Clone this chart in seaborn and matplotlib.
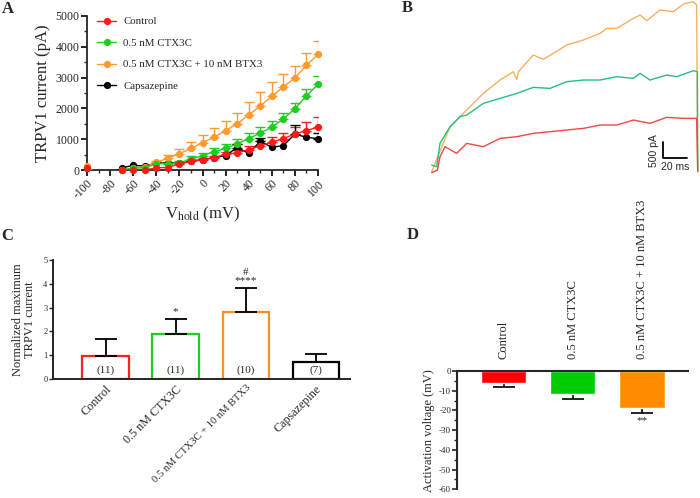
import numpy as np
import pandas as pd
import matplotlib
matplotlib.use("Agg")
import matplotlib.pyplot as plt
from matplotlib.lines import Line2D
from matplotlib.ticker import MultipleLocator
import seaborn as sns

sns.set_style("ticks")
plt.rcParams['font.family'] = ['Liberation Serif', 'DejaVu Serif']
plt.rcParams['mathtext.fontset'] = 'stix'
plt.rcParams['axes.unicode_minus'] = False

# ---------------- data: panel A ----------------
v_hold = [-100, -90, -80, -70, -60, -50, -40, -30, -20, -10, 0, 10, 20, 30, 40, 50, 60, 70, 80, 90, 100]
series_names = ["Control", "0.5 nM CTX3C", "0.5 nM CTX3C + 10 nM BTX3", "Capsazepine"]
control_i = [50, -200, -200, 0, 0, 0, 70, 80, 200, 280, 330, 400, 510, 560, 660, 790, 900, 1020, 1170, 1280, 1390]
ctx_i = [60, -200, -200, 0, 60, 70, 200, 210, 230, 350, 470, 590, 700, 850, 1020, 1200, 1390, 1660, 1990, 2410, 2780]
ctx_btx_i = [130, -200, -200, 0, 60, 100, 250, 380, 530, 700, 890, 1060, 1280, 1500, 1790, 2080, 2390, 2700, 2990, 3400, 3750]
caps_i = [50, -200, -200, 70, 150, 130, 220, 230, 220, 280, 340, 400, 470, 730, 540, 930, 740, 790, 1170, 1060, 1020]
control_err = [0, 0, 0, 0, 0, 0, 0, 0, 30, 40, 50, 60, 90, 90, 120, 140, 170, 180, 230, 270, 320]
ctx_err = [0, 0, 0, 0, 0, 0, 0, 40, 50, 100, 90, 110, 140, 150, 190, 200, 210, 180, 170, 210, 270]
ctx_btx_err = [0, 0, 0, 0, 0, 0, 50, 110, 150, 200, 250, 290, 320, 360, 410, 440, 470, 430, 400, 400, 450]
caps_err = [0, 0, 0, 0, 0, 0, 0, 0, 0, 0, 0, 0, 0, 100, 0, 120, 0, 0, 280, 0, 180]
colors_a = ["#ff1a1a", "#1fcc1f", "#ff9a2e", "#000000"]

# ---------------- data: panel B (traces, ms / pA) ----------------
orange_t = [0, 15.7, 30, 44.3, 58.6, 70, 72.9, 74.3, 87.1, 95.7, 104.3, 115.7, 130, 144.3, 150, 158.6, 172.9, 178.6, 184.3, 195.7, 207.1, 215.7, 224.3, 227.1, 228]
orange_pa = [0, 1350, 1850, 2350, 2750, 3000, 2770, 3000, 3500, 3370, 3550, 3800, 3950, 4150, 4300, 4300, 4600, 4700, 4530, 4850, 4800, 5030, 5100, 5000, 0]
green_t = [0, 4.3, 7.1, 15.7, 24.3, 30, 44.3, 58.6, 72.9, 87.1, 101.4, 115.7, 130, 144.3, 158.6, 172.9, 178.6, 187.1, 201.4, 210, 224.3, 227.7, 228]
green_pa = [200, 150, 850, 1350, 1650, 1700, 2050, 2200, 2350, 2530, 2500, 2700, 2750, 2750, 2850, 2800, 2950, 2750, 2900, 2850, 3030, 3000, 50]
red_t = [0, 4.9, 7.1, 11.4, 21.4, 30, 44.3, 58.6, 72.9, 87.1, 101.4, 115.7, 130, 144.3, 158.6, 172.9, 187.1, 201.4, 215.7, 227.1, 228]
red_pa = [-30, 50, 450, 750, 550, 850, 750, 1000, 1050, 1150, 1200, 1250, 1300, 1400, 1400, 1550, 1450, 1630, 1600, 1600, 0]
trace_colors = ["#f8b060", "#25c080", "#f04848"]

# ---------------- data: panel C ----------------
c_labels = ["Control", "0.5 nM CTX3C", "0.5 nM CTX3C + 10 nM BTX3", "Capsazepine"]
c_values = [0.97, 1.88, 2.82, 0.70]
c_err = [0.71, 0.63, 1.00, 0.34]
c_n = ["(11)", "(11)", "(10)", "(7)"]
c_sig = ["", "*", "****", ""]
c_colors = ["#ff2020", "#22cc22", "#ff9020", "#000000"]

# ---------------- data: panel D ----------------
d_labels = ["Control", "0.5 nM CTX3C", "0.5 nM CTX3C + 10 nM BTX3"]
d_values = [-5.9, -11.8, -18.9]
d_err = [2.0, 2.6, 2.6]
d_colors = ["#ff0000", "#00cc00", "#ff8c00"]

W, H = 700, 498
fig = plt.figure(figsize=(7.0, 4.98), dpi=100)

def ax_px(l, t, r, b):
    return fig.add_axes([l / W, 1 - b / H, (r - l) / W, (b - t) / H])

# ================= Panel A =================
axA = ax_px(87, 16, 318, 170)
rows = []
for name, vals in zip(series_names, [control_i, ctx_i, ctx_btx_i, caps_i]):
    for v, i in zip(v_hold, vals):
        rows.append({"V": v, "I": i, "group": name})
dfA = pd.DataFrame(rows)
pal_a = dict(zip(series_names, colors_a))
order_draw = ["Capsazepine", "0.5 nM CTX3C + 10 nM BTX3", "0.5 nM CTX3C", "Control"]
for name, errs in zip(series_names, [control_err, ctx_err, ctx_btx_err, caps_err]):
    sub = dfA[dfA.group == name]
    vals = sub["I"].to_numpy()
    e = np.array(errs)
    mask = e > 0
    axA.errorbar(np.array(v_hold)[mask], vals[mask], yerr=[np.zeros(mask.sum()), e[mask]],
                 fmt='none', ecolor=pal_a[name], elinewidth=1.0, capsize=3.5, capthick=1.0, zorder=2)
for name in order_draw:
    sub = dfA[dfA.group == name]
    sns.lineplot(data=sub, x="V", y="I", color=pal_a[name], linewidth=1.0, ax=axA,
                 sort=False, estimator=None, zorder=3)
    pos = sub[sub.I >= 0]
    axA.plot(pos["V"], pos["I"], 'o', color=pal_a[name], markersize=4.2, clip_on=False, zorder=4)
axA.set_xlim(-100, 100)
axA.set_ylim(0, 5000)
axA.xaxis.set_major_locator(MultipleLocator(20))
axA.xaxis.set_minor_locator(MultipleLocator(10))
axA.yaxis.set_major_locator(MultipleLocator(1000))
axA.yaxis.set_minor_locator(MultipleLocator(500))
axA.tick_params(axis='both', which='major', labelsize=8.5, width=1.2, length=4, color='black', pad=1.5)
axA.tick_params(axis='both', which='minor', width=1.0, length=2.5)
for lab in axA.get_xticklabels():
    lab.set_rotation(45)
    lab.set_ha('right')
    lab.set_rotation_mode('anchor')
for s in ['left', 'bottom']:
    axA.spines[s].set_linewidth(1.3)
sns.despine(ax=axA)
axA.set_ylabel("TRPV1 current (pA)", fontsize=12, labelpad=3)
axA.set_xlabel(r"V$_{\mathrm{hold}}$ (mV)", fontsize=12, labelpad=2)
handles = [Line2D([0], [0], color=c, marker='o', markersize=4.2, linewidth=1.0) for c in colors_a]
axA.legend(handles, series_names, loc='upper left', bbox_to_anchor=(0.045, 0.995), frameon=False,
           fontsize=7.8, handlelength=1.7, handletextpad=0.7, labelspacing=1.1, borderaxespad=0, borderpad=0)

# ================= Panel B =================
axB = ax_px(425, 0, 700, 180)
px_per_ms = 70 / 3 / 20
px_per_pa = 50 / 3 / 500
t0_px = 431.7
i0_px = 171.7
axB.set_xlim(-(t0_px - 425) / px_per_ms, (700 - t0_px) / px_per_ms)
axB.set_ylim(-(180 - i0_px) / px_per_pa, (i0_px - 0) / px_per_pa)
for t, i, c in [(orange_t, orange_pa, trace_colors[0]), (green_t, green_pa, trace_colors[1]), (red_t, red_pa, trace_colors[2])]:
    dfB = pd.DataFrame({"t": t, "I": i})
    sns.lineplot(data=dfB, x="t", y="I", color=c, linewidth=1.0, sort=False, estimator=None, ax=axB)
axB.axis('off')
sb_t, sb_i = 198.6, 400
axB.plot([sb_t, sb_t, sb_t + 20], [sb_i + 500, sb_i, sb_i], color='black', linewidth=1.3, clip_on=False)
axB.text(sb_t - 3.5, sb_i + 220, "500 pA", rotation=90, ha='right', va='center', fontsize=7.5,
         family=['Liberation Sans', 'DejaVu Sans'])
axB.text(sb_t + 10, sb_i - 120, "20 ms", ha='center', va='top', fontsize=7.5,
         family=['Liberation Sans', 'DejaVu Sans'])

# ================= Panel C =================
axC = ax_px(53, 260, 350, 379)
dfC = pd.DataFrame({"cat": c_labels, "val": c_values})
sns.barplot(data=dfC, x="cat", y="val", hue="cat", palette=c_colors, fill=False, linewidth=1.6,
            width=0.66, legend=False, ax=axC, errorbar=None)
axC.errorbar(range(4), c_values, yerr=[[0] * 4, c_err], fmt='none', ecolor='black',
             elinewidth=1.3, capsize=8, capthick=1.3, zorder=1)
axC.set_xlim(-0.75, 3.49)
axC.set_ylim(0, 5)
axC.yaxis.set_major_locator(MultipleLocator(1))
axC.tick_params(axis='y', labelsize=6, width=1.0, length=3, pad=1)
axC.tick_params(axis='x', length=0, labelsize=8.7, pad=3)
for lab in axC.get_xticklabels():
    lab.set_rotation(45)
    lab.set_ha('right')
    lab.set_rotation_mode('anchor')
    if len(lab.get_text()) > 20:
        lab.set_fontsize(7.6)
for s in ['left', 'bottom']:
    axC.spines[s].set_linewidth(1.4)
sns.despine(ax=axC)
axC.set_xlabel("")
axC.set_ylabel("Normalized maximum\nTRPV1 current", fontsize=9, labelpad=5, linespacing=1.0)
for k in range(4):
    axC.text(k, 0.35, c_n[k], ha='center', va='center', fontsize=8)
    if c_sig[k]:
        axC.text(k, c_values[k] + c_err[k] + 0.12, c_sig[k], ha='center', va='bottom', fontsize=8)
axC.text(2, 4.3, "#", ha='center', va='bottom', fontsize=8)

# ================= Panel D =================
axD = ax_px(457.3, 371, 688, 489.3)
dfD = pd.DataFrame({"cat": d_labels, "val": d_values})
axD.errorbar(range(3), d_values, yerr=[d_err, [0] * 3], fmt='none', ecolor='black',
             elinewidth=1.2, capsize=8, capthick=1.2, zorder=1)
sns.barplot(data=dfD, x="cat", y="val", hue="cat", palette=d_colors, width=0.66,
            legend=False, ax=axD, errorbar=None, saturation=1, zorder=2)
axD.set_xlim(-0.67, 2.67)
axD.set_ylim(-60, 0)
axD.yaxis.set_major_locator(MultipleLocator(10))
axD.yaxis.set_minor_locator(MultipleLocator(5))
axD.xaxis.tick_top()
axD.tick_params(axis='x', length=0, labelsize=9, pad=9)
axD.tick_params(axis='y', which='major', labelsize=6.5, width=1.2, length=3.5, pad=1)
axD.tick_params(axis='y', which='minor', width=1.0, length=2)
for lab in axD.get_xticklabels():
    lab.set_rotation(90)
    lab.set_va('bottom')
    lab.set_ha('center')
axD.spines['bottom'].set_visible(False)
axD.spines['right'].set_visible(False)
axD.spines['top'].set_linewidth(1.5)
axD.spines['left'].set_linewidth(1.5)
axD.set_xlabel("")
axD.set_ylabel("Activation voltage (mV)", fontsize=9, labelpad=3)
axD.text(2, d_values[2] - d_err[2] - 1.5, "**", ha='center', va='top', fontsize=8)

# ================= Panel letters =================
for letter, (x, y) in {"A": (8, 9), "B": (407, 8), "C": (7, 236), "D": (413, 235)}.items():
    fig.text(x / W, 1 - y / H, letter, fontsize=12, fontweight='bold', ha='center', va='center')

fig.savefig("out.png", dpi=100)
